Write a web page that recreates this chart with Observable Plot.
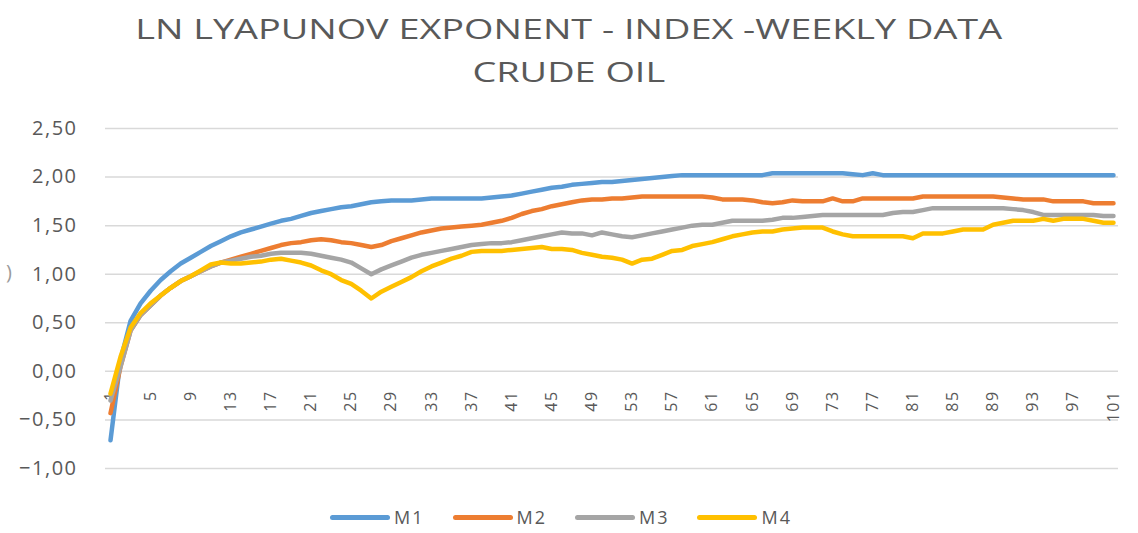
<!DOCTYPE html>
<html>
<head>
<meta charset="utf-8">
<script src="https://cdn.jsdelivr.net/npm/d3@7"></script>
<script src="https://cdn.jsdelivr.net/npm/@observablehq/plot@0.6"></script>
<style>
  body { margin: 0; background: #fff; }
  #wrap { position: relative; width: 1138px; height: 533px; overflow: hidden; background: #fff; font-family: "Open Sans", sans-serif; color: #595959; }
  .title { position: absolute; left: 0; width: 1138px; text-align: center; font-size: 27px; line-height: 30px; white-space: nowrap; z-index: 2; }
  .title span { display: inline-block; transform: scaleX(1.4); transform-origin: center; }
  #chart { position: absolute; left: 0; top: 100px; z-index: 1; }
  #chart svg text { letter-spacing: 1.5px; }
  #legend { position: absolute; left: 0; top: 505px; width: 1122px; display: flex; justify-content: center; gap: 28px; font-size: 18px; letter-spacing: 2px; z-index: 2; }
  .item { display: flex; align-items: center; gap: 4px; }
  .sw { width: 60px; height: 5px; border-radius: 3px; display: inline-block; }
  #paren { position: absolute; left: 6px; top: 258px; font-size: 20px; color: #9a9a9a; z-index: 3; }
</style>
</head>
<body>
<div id="wrap">
  <div class="title" style="top:14px"><span>LN LYAPUNOV EXPONENT -  INDEX -WEEKLY DATA</span></div>
  <div class="title" style="top:57px"><span>CRUDE OIL</span></div>
  <div id="chart"></div>
  <div id="paren">)</div>
  <div id="legend"></div>
</div>
<script>
const seriesNames = ["M1", "M2", "M3", "M4"];
const seriesColors = ["#5B9BD5", "#ED7D31", "#A5A5A5", "#FFC000"];
const yTicks = [-1, -0.5, 0, 0.5, 1, 1.5, 2, 2.5];
const xTickLabels = [1,5,9,13,17,21,25,29,33,37,41,45,49,53,57,61,65,69,73,77,81,85,89,93,97,101];

const M1 = [-0.71,0.12,0.52,0.70,0.83,0.94,1.03,1.11,1.17,1.23,
 1.29,1.34,1.39,1.43,1.46,1.49,1.52,1.55,1.57,1.60,
 1.63,1.65,1.67,1.69,1.70,1.72,1.74,1.75,1.76,1.76,
 1.76,1.77,1.78,1.78,1.78,1.78,1.78,1.78,1.79,1.80,
 1.81,1.83,1.85,1.87,1.89,1.90,1.92,1.93,1.94,1.95,
 1.95,1.96,1.97,1.98,1.99,2.00,2.01,2.02,2.02,2.02,
 2.02,2.02,2.02,2.02,2.02,2.02,2.04,2.04,2.04,2.04,
 2.04,2.04,2.04,2.04,2.03,2.02,2.04,2.02,2.02,2.02,
 2.02,2.02,2.02,2.02,2.02,2.02,2.02,2.02,2.02,2.02,
 2.02,2.02,2.02,2.02,2.02,2.02,2.02,2.02,2.02,2.02,
 2.02];
const M2 = [-0.43,0.05,0.42,0.58,0.68,0.78,0.86,0.93,0.98,1.03,
 1.08,1.12,1.15,1.18,1.21,1.24,1.27,1.30,1.32,1.33,
 1.35,1.36,1.35,1.33,1.32,1.30,1.28,1.30,1.34,1.37,
 1.40,1.43,1.45,1.47,1.48,1.49,1.50,1.51,1.53,1.55,
 1.58,1.62,1.65,1.67,1.70,1.72,1.74,1.76,1.77,1.77,
 1.78,1.78,1.79,1.80,1.80,1.80,1.80,1.80,1.80,1.80,
 1.79,1.77,1.77,1.77,1.76,1.74,1.73,1.74,1.76,1.75,
 1.75,1.75,1.78,1.75,1.75,1.78,1.78,1.78,1.78,1.78,
 1.78,1.80,1.80,1.80,1.80,1.80,1.80,1.80,1.80,1.79,
 1.78,1.77,1.77,1.77,1.75,1.75,1.75,1.75,1.73,1.73,
 1.73];
const M3 = [-0.30,0.05,0.42,0.58,0.68,0.78,0.86,0.93,0.98,1.03,
 1.08,1.12,1.14,1.16,1.18,1.19,1.21,1.22,1.22,1.22,
 1.21,1.19,1.17,1.15,1.12,1.06,1.00,1.05,1.09,1.13,
 1.17,1.20,1.22,1.24,1.26,1.28,1.30,1.31,1.32,1.32,
 1.33,1.35,1.37,1.39,1.41,1.43,1.42,1.42,1.40,1.43,
 1.41,1.39,1.38,1.40,1.42,1.44,1.46,1.48,1.50,1.51,
 1.51,1.53,1.55,1.55,1.55,1.55,1.56,1.58,1.58,1.59,
 1.60,1.61,1.61,1.61,1.61,1.61,1.61,1.61,1.63,1.64,
 1.64,1.66,1.68,1.68,1.68,1.68,1.68,1.68,1.68,1.68,
 1.67,1.66,1.64,1.61,1.61,1.61,1.61,1.61,1.61,1.60,
 1.60];
const M4 = [-0.23,0.15,0.45,0.60,0.70,0.78,0.86,0.93,0.98,1.04,
 1.10,1.12,1.11,1.11,1.12,1.13,1.15,1.16,1.14,1.12,
 1.09,1.04,1.00,0.94,0.90,0.83,0.75,0.82,0.87,0.92,
 0.97,1.03,1.08,1.12,1.16,1.19,1.23,1.24,1.24,1.24,
 1.25,1.26,1.27,1.28,1.26,1.26,1.25,1.22,1.20,1.18,
 1.17,1.15,1.11,1.15,1.16,1.20,1.24,1.25,1.29,1.31,
 1.33,1.36,1.39,1.41,1.43,1.44,1.44,1.46,1.47,1.48,
 1.48,1.48,1.44,1.41,1.39,1.39,1.39,1.39,1.39,1.39,
 1.37,1.42,1.42,1.42,1.44,1.46,1.46,1.46,1.51,1.53,
 1.55,1.55,1.55,1.57,1.55,1.57,1.57,1.57,1.55,1.53,
 1.53];

const seriesValues = [M1, M2, M3, M4];
const rows = [];
seriesValues.forEach((vals, s) => vals.forEach((v, i) => rows.push({week: i + 1, value: v, series: seriesNames[s]})));

const fmt = d => d3.format(".2f")(d).replace(".", ",");

const chart = Plot.plot({
  width: 1138,
  height: 395,
  marginLeft: 105,
  marginRight: 20,
  marginTop: 28,
  marginBottom: 27,
  style: {fontFamily: "Open Sans", fontSize: "20px", color: "#595959", background: "white", overflow: "visible"},
  x: {domain: [0.5, 101.5], axis: null},
  y: {domain: [-1, 2.5]},
  color: {domain: seriesNames, range: seriesColors},
  marks: [
    Plot.ruleY(yTicks, {stroke: "#D9D9D9", strokeWidth: 1.5}),
    Plot.axisY(yTicks, {tickSize: 0, tickPadding: 28, tickFormat: fmt, fill: "#595959", fontSize: 20, label: null}),
    Plot.text(xTickLabels, {x: d => d, y: 0, text: d => String(d), rotate: -90, textAnchor: "end", dy: 19, fontSize: 16, fill: "#595959"}),
    Plot.line(rows, {x: "week", y: "value", z: "series", stroke: "series", strokeWidth: 4.5, strokeLinecap: "round", strokeLinejoin: "round", curve: "linear"})
  ]
});
document.getElementById("chart").appendChild(chart);

const legend = document.getElementById("legend");
seriesNames.forEach((n, i) => {
  const it = document.createElement("div");
  it.className = "item";
  it.innerHTML = `<span class="sw" style="background:${seriesColors[i]}"></span><span>${n}</span>`;
  legend.appendChild(it);
});
</script>
</body>
</html>
